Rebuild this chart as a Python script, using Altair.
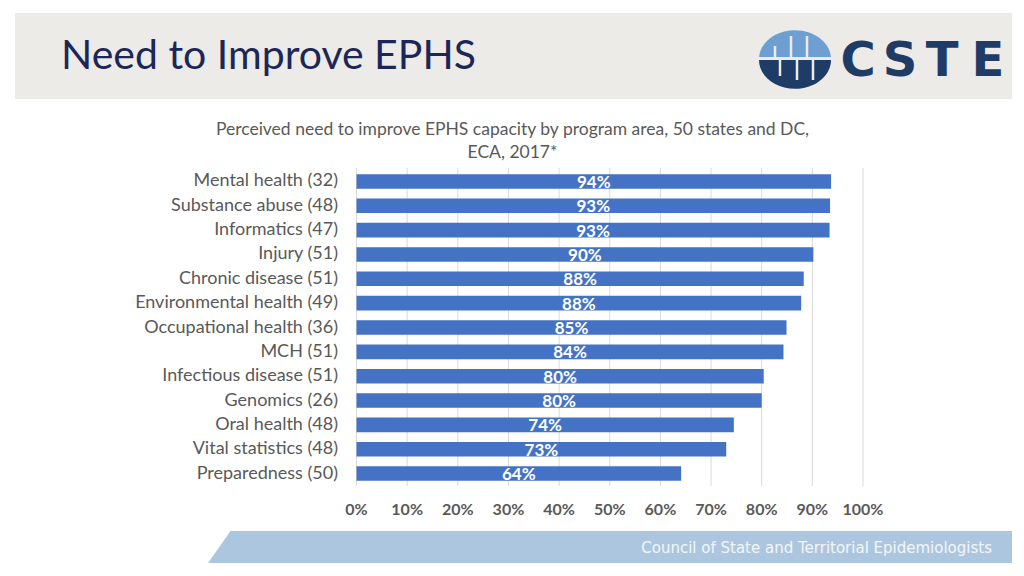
import altair as alt
import pandas as pd

# ---------------- data ----------------
categories = [
    "Mental health (32)", "Substance abuse (48)", "Informatics (47)", "Injury (51)",
    "Chronic disease (51)", "Environmental health (49)", "Occupational health (36)",
    "MCH (51)", "Infectious disease (51)", "Genomics (26)", "Oral health (48)",
    "Vital statistics (48)", "Preparedness (50)",
]
values = [0.937, 0.935, 0.934, 0.902, 0.883, 0.878, 0.849, 0.843, 0.804, 0.800, 0.745, 0.730, 0.641]
value_labels = ["94%", "93%", "93%", "90%", "88%", "88%", "85%", "84%", "80%", "80%", "74%", "73%", "64%"]
tick_values = [0.0, 0.1, 0.2, 0.3, 0.4, 0.5, 0.6, 0.7, 0.8, 0.9, 1.0]
tick_labels = ["0%", "10%", "20%", "30%", "40%", "50%", "60%", "70%", "80%", "90%", "100%"]

slide_title = "Need to Improve EPHS"
chart_title_lines = [
    "Perceived need to improve EPHS capacity by program area, 50 states and DC,",
    "ECA, 2017*",
]
footer_text = "Council of State and Territorial Epidemiologists"
logo_letters = ["C", "S", "T", "E"]

FONT = "Lato"
W, H = 1008, 560


def px(v):
    # page coordinate -> chart coordinate (8px page margin)
    return v - 8


bars_df = pd.DataFrame({"cat": categories, "v": values, "lab": value_labels})
ticks_df = pd.DataFrame({"t": tick_values, "lab": tick_labels})
one = pd.DataFrame({"a": [0]})

xscale = alt.Scale(domain=[0, 1], range=[px(356.5), px(863)])
yscale = alt.Scale(domain=categories, range=[px(169.3), px(485.7)],
                   paddingInner=0.4, paddingOuter=0.2)

HEADER_BG = "#ecebe8"

# ---------------- slide decorations ----------------
header = alt.Chart(one).mark_rect(color=HEADER_BG).encode(
    x=alt.value(px(15)), x2=alt.value(px(1012)),
    y=alt.value(px(13)), y2=alt.value(px(99)))

title = alt.Chart(one).mark_text(
    text=slide_title, font=FONT, fontSize=41, color="#1c2757",
    align="left", baseline="alphabetic").encode(
    x=alt.value(px(61)), y=alt.value(px(69)))

k = 0.5523
top_half = (f"M -1 0 C -1 {-0.8*k:.4f} {-k} -0.8 0 -0.8 "
            f"C {k} -0.8 1 {-0.8*k:.4f} 1 0 Z")
bot_half = (f"M -1 0 C -1 {0.8*k:.4f} {-k} 0.8 0 0.8 "
            f"C {k} 0.8 1 {0.8*k:.4f} 1 0 Z")
logo_size = (2 * 36) ** 2
logo_top = alt.Chart(one).mark_point(
    shape=top_half, size=logo_size, filled=True, opacity=1,
    color="#6d9fd2", strokeWidth=0).encode(
    x=alt.value(px(795)), y=alt.value(px(59)))
logo_bot = alt.Chart(one).mark_point(
    shape=bot_half, size=logo_size, filled=True, opacity=1,
    color="#1f3c66", strokeWidth=0).encode(
    x=alt.value(px(795)), y=alt.value(px(60)))
logo_gap = alt.Chart(one).mark_rule(color=HEADER_BG, strokeWidth=3).encode(
    x=alt.value(px(755)), x2=alt.value(px(835)), y=alt.value(px(58.5)))
stripe_layers = []
for sx, y0, y1 in [(775, 46, 58), (791, 36, 58), (807, 36, 58),
                   (780, 58, 76), (797, 58, 80), (813, 58, 80)]:
    stripe_layers.append(
        alt.Chart(one).mark_rule(color=HEADER_BG, strokeWidth=2.5).encode(
            x=alt.value(px(sx)), y=alt.value(px(y0)), y2=alt.value(px(y1))))

letter_x = [858, 900, 942, 988]
logo_text_layers = []
for letter, lx in zip(logo_letters, letter_x):
    logo_text_layers.append(
        alt.Chart(one).mark_text(
            text=letter, font="DejaVu Sans", fontSize=48, fontWeight=600,
            color="#1f3c66", align="center", baseline="alphabetic").encode(
            x=alt.value(px(lx)), y=alt.value(px(76))))

banner = alt.Chart(one).mark_rect(color="#adc6df").encode(
    x=alt.value(px(230)), x2=alt.value(px(1012)),
    y=alt.value(px(531)), y2=alt.value(px(563)))
banner_tri = alt.Chart(one).mark_point(
    shape="M -1.4 1 L 0 -1 L 0 1 Z", size=32 ** 2, filled=True, opacity=1,
    color="#adc6df", strokeWidth=0).encode(
    x=alt.value(px(230.5)), y=alt.value(px(547)))
banner_text = alt.Chart(one).mark_text(
    text=footer_text, font="DejaVu Sans", fontSize=15, color="#f2f6fa",
    align="right", baseline="middle").encode(
    x=alt.value(px(992)), y=alt.value(px(548)))

chart_title_layers = []
for i, line in enumerate(chart_title_lines):
    chart_title_layers.append(
        alt.Chart(one).mark_text(
            text=line, font=FONT, fontSize=17.5, color="#595959",
            align="center", baseline="middle").encode(
            x=alt.value(px(512.5)), y=alt.value(px(130 + 23 * i))))

# ---------------- chart ----------------
grid = alt.Chart(ticks_df).mark_rule(color="#d9d9d9", strokeWidth=1).encode(
    x=alt.X("t:Q", scale=xscale, axis=None),
    y=alt.value(px(168)), y2=alt.value(px(486)))

bars = alt.Chart(bars_df).mark_bar(color="#4472c4", cornerRadius=0).encode(
    x=alt.X("v:Q", scale=xscale, axis=None),
    x2=alt.datum(0),
    y=alt.Y("cat:N", scale=yscale, axis=None, sort=categories))

bar_labels = alt.Chart(bars_df).transform_calculate(mid="datum.v / 2").mark_text(
    font=FONT, fontSize=17, fontWeight="bold", color="white",
    align="center", baseline="middle", dy=1.5).encode(
    x=alt.X("mid:Q", scale=xscale, axis=None),
    y=alt.Y("cat:N", scale=yscale, axis=None, sort=categories),
    text="lab:N")

cat_labels = alt.Chart(bars_df).mark_text(
    font=FONT, fontSize=18, color="#595959",
    align="right", baseline="middle").encode(
    x=alt.value(px(338)),
    y=alt.Y("cat:N", scale=yscale, axis=None, sort=categories),
    text="cat:N")

tick_text = alt.Chart(ticks_df).mark_text(
    font=FONT, fontSize=16, fontWeight="bold", color="#595959",
    align="center", baseline="middle").encode(
    x=alt.X("t:Q", scale=xscale, axis=None),
    y=alt.value(px(510)),
    text="lab:N")

chart = alt.layer(
    header, title, logo_top, logo_bot, logo_gap, *stripe_layers, *logo_text_layers,
    banner, banner_tri, banner_text, *chart_title_layers,
    grid, bars, bar_labels, cat_labels, tick_text,
).properties(
    width=W, height=H, padding=0, background="white",
    autosize=alt.AutoSizeParams(type="none"),
).configure_view(stroke=None)

chart.save("out.html", embed_options={"renderer": "svg", "actions": False})
